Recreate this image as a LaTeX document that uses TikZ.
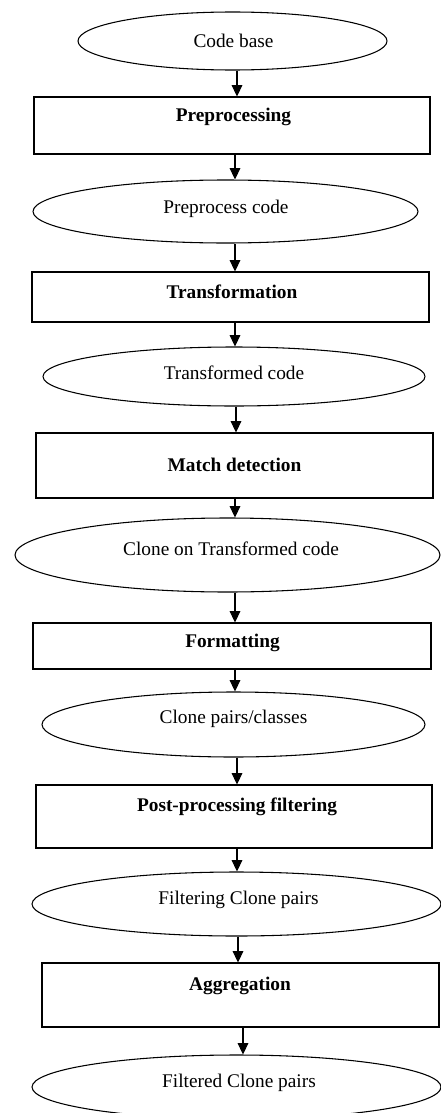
\documentclass[tikz,border=0pt]{standalone}
\usepackage{fontspec}
\setmainfont{Liberation Serif}
\usetikzlibrary{shapes.geometric,arrows.meta}
\tikzset{
  ell/.style={draw, ellipse, line width=0.8pt, inner sep=0pt},
  stepbox/.style={draw, rectangle, line width=0.8pt, inner sep=0pt},
  lbl/.style={inner sep=0pt, font=\fontsize{14.5}{17}\selectfont},
  blbl/.style={lbl, font=\fontsize{14.5}{17}\selectfont\bfseries},
  arr/.style={line width=0.8pt, -{Triangle[width=8pt,length=8.5pt]}}
}
\begin{document}
\begin{tikzpicture}[x=0.75pt,y=-0.75pt]
\useasboundingbox (0,0) rectangle (441,1113);
\clip (0,0) rectangle (441,1113);
% shapes
\node[ell, minimum width=231.75pt, minimum height=43.5pt] (e1) at (232.5,41) {};
\node[stepbox, minimum width=297pt, minimum height=42.75pt] (b1) at (232,125.5) {};
\node[ell, minimum width=288.75pt, minimum height=47.25pt] (e2) at (225.5,211.5) {};
\node[stepbox, minimum width=297.75pt, minimum height=37.5pt] (b2) at (230.5,297) {};
\node[ell, minimum width=286.5pt, minimum height=44.25pt] (e3) at (234,376.5) {};
\node[stepbox, minimum width=297.75pt, minimum height=48.75pt] (b3) at (234.5,465.5) {};
\node[ell, minimum width=318.75pt, minimum height=55.5pt] (e4) at (227.5,555) {};
\node[stepbox, minimum width=298.5pt, minimum height=34.5pt] (b4) at (232,646) {};
\node[ell, minimum width=287.25pt, minimum height=48.75pt] (e5) at (233.5,724.5) {};
\node[stepbox, minimum width=297pt, minimum height=47.25pt] (b5) at (234,816.5) {};
\node[ell, minimum width=306.75pt, minimum height=48pt] (e6) at (236.5,904) {};
\node[stepbox, minimum width=297.75pt, minimum height=48pt] (b6) at (240.5,995) {};
\node[ell, minimum width=306.75pt, minimum height=48pt] (e7) at (236.5,1087) {};
% texts
\node[lbl] (t1) at (233.5,41) {Code base};
\node[blbl] (t2) at (233.5,117) {Preprocessing};
\node[lbl] (t3) at (226,209) {Preprocess code};
\node[blbl] (t4) at (232,292) {Transformation};
\node[lbl] (t5) at (234,373) {Transformed code};
\node[blbl] (t6) at (234.5,465) {Match detection};
\node[lbl] (t7) at (231,549) {Clone on Transformed code};
\node[blbl] (t8) at (232.5,643) {Formatting};
\node[lbl] (t9) at (233.5,719) {Clone pairs/classes};
\node[blbl] (t10) at (237,807) {Post-processing filtering};
\node[lbl] (t11) at (238.5,900) {Filtering Clone pairs};
\node[blbl] (t12) at (240,986) {Aggregation};
\node[lbl] (t13) at (239,1083) {Filtered Clone pairs};
% arrow x positions
\coordinate (x1) at (237,0);
\coordinate (x2) at (235,0);
\coordinate (x3) at (235,0);
\coordinate (x4) at (235,0);
\coordinate (x5) at (236,0);
\coordinate (x6) at (235,0);
\coordinate (x7) at (235,0);
\coordinate (x8) at (235,0);
\coordinate (x9) at (237,0);
\coordinate (x10) at (237,0);
\coordinate (x11) at (238,0);
\coordinate (x12) at (243,0);
% connectors
\draw[arr] (e1.south -| x1) -- (b1.north -| x1);
\draw[arr] (b1.south -| x2) -- (e2.north -| x2);
\draw[arr] (e2.south -| x3) -- (b2.north -| x3);
\draw[arr] (b2.south -| x4) -- (e3.north -| x4);
\draw[arr] (e3.south -| x5) -- (b3.north -| x5);
\draw[arr] (b3.south -| x6) -- (e4.north -| x6);
\draw[arr] (e4.south -| x7) -- (b4.north -| x7);
\draw[arr] (b4.south -| x8) -- (e5.north -| x8);
\draw[arr] (e5.south -| x9) -- (b5.north -| x9);
\draw[arr] (b5.south -| x10) -- (e6.north -| x10);
\draw[arr] (e6.south -| x11) -- (b6.north -| x11);
\draw[arr] (b6.south -| x12) -- (e7.north -| x12);
\end{tikzpicture}
\end{document}
